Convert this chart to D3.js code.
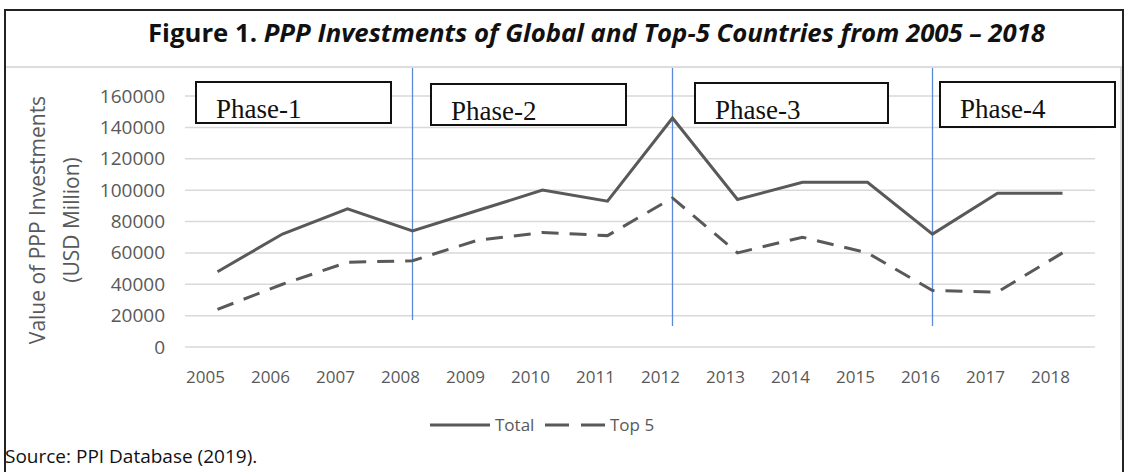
<!DOCTYPE html>
<html>
<head>
<meta charset="utf-8">
<script src="https://cdn.jsdelivr.net/npm/d3@7"></script>
<style>
  body { margin: 0; background: #fff; }
  text { font-family: "Open Sans", sans-serif; }
</style>
</head>
<body>
<div id="chart"></div>
<script>
const width = 1127;
const height = 472;

// values
const years = ["2005","2006","2007","2008","2009","2010","2011","2012","2013","2014","2015","2016","2017","2018"];
const total = [48000,72000,88000,74000,87000,100000,93000,146000,94000,105000,105000,72000,98000,98000];
const top5 = [24000,40000,54000,55000,68000,73000,71000,95000,60000,70000,60000,36000,35000,60000];
const yTicks = [0,20000,40000,60000,80000,100000,120000,140000,160000];
const phases = ["Phase-1","Phase-2","Phase-3","Phase-4"];
const phaseBreaks = ["2008","2012","2016"];

let x = d3.scaleBand()
  .domain(years)
  .range([185,1095]);

let y = d3.scaleLinear()
  .domain([0,160000])
  .range([347,96]);

const svg = d3.select("#chart")
  .append("svg")
  .attr("width", width)
  .attr("height", height);

// outer frame
svg.append("rect")
  .attr("x", 5).attr("y", 10)
  .attr("width", 1118).attr("height", 480)
  .attr("fill", "none")
  .attr("stroke", "#222")
  .attr("stroke-width", 2);

// faint edge of the pasted chart image
svg.append("path")
  .attr("d", "M6,67H1121V440")
  .attr("fill", "none")
  .attr("stroke", "#ddd")
  .attr("stroke-width", 2);

// title
const title = svg.append("text")
  .attr("x", 148)
  .attr("y", 42)
  .attr("font-size", 25)
  .attr("font-weight", "bold")
  .attr("fill", "#111")
  .attr("textLength", 897)
  .attr("lengthAdjust", "spacingAndGlyphs");
title.append("tspan").text("Figure 1. ");
title.append("tspan").attr("font-style", "italic")
  .text("PPP Investments of Global and Top-5 Countries from 2005 \u2013 2018");

// gridlines
svg.append("g")
  .selectAll("line")
  .data(yTicks).enter()
  .append("line")
  .attr("x1", 185).attr("x2", 1095)
  .attr("y1", d => y(d)).attr("y2", d => y(d))
  .attr("stroke", "#d9d9d9")
  .attr("stroke-width", 1.5);

// y axis labels
const yAxis = svg.append("g")
  .attr("transform", "translate(185,0)")
  .call(d3.axisLeft(y).tickValues(yTicks).tickSize(0).tickPadding(20).tickFormat(d3.format("d")));
yAxis.select(".domain").remove();
yAxis.selectAll("text")
  .attr("font-size", 19)
  .attr("fill", "#595959");

// x axis labels
const xAxis = svg.append("g")
  .attr("transform", "translate(-12,347)")
  .call(d3.axisBottom(x).tickSize(0).tickPadding(24));
xAxis.select(".domain").remove();
xAxis.selectAll("text")
  .attr("font-size", 17)
  .attr("fill", "#595959");

// y axis title
const yTitle = svg.append("text")
  .attr("transform", "rotate(-90)")
  .attr("text-anchor", "middle")
  .attr("font-size", 21)
  .attr("fill", "#595959");
yTitle.append("tspan").attr("x", -220).attr("y", 45).text("Value of PPP Investments");
yTitle.append("tspan").attr("x", -220).attr("y", 79).text("(USD Million)");

// phase separators
svg.append("g")
  .selectAll("line")
  .data(phaseBreaks).enter()
  .append("line")
  .attr("x1", d => x(d) + x.bandwidth()/2)
  .attr("x2", d => x(d) + x.bandwidth()/2)
  .attr("y1", 68)
  .attr("y2", (d, i) => i == 0 ? 320 : 326)
  .attr("stroke", "#5b8bd6")
  .attr("stroke-width", 1.3);

// phase boxes
const boxes = [[196,82,195,41],[431,84,195,41],[695,83,193,40],[940,82,175,45]];
const pg = svg.append("g")
  .selectAll("g")
  .data(phases).enter()
  .append("g");
pg.append("rect")
  .attr("x", (d, i) => boxes[i][0])
  .attr("y", (d, i) => boxes[i][1])
  .attr("width", (d, i) => boxes[i][2])
  .attr("height", (d, i) => boxes[i][3])
  .attr("fill", "#fff")
  .attr("stroke", "#111")
  .attr("stroke-width", 2);
pg.append("text")
  .attr("x", (d, i) => boxes[i][0] + 20)
  .attr("y", (d, i) => boxes[i][1] + 36)
  .attr("font-size", 27)
  .attr("fill", "#111")
  .style("font-family", "'Liberation Serif', serif")
  .text(d => d);

// lines
const line = d3.line()
  .x((d, i) => x(years[i]) + x.bandwidth()/2)
  .y(d => y(d));

svg.append("path")
  .datum(total)
  .attr("d", line)
  .attr("fill", "none")
  .attr("stroke", "#595959")
  .attr("stroke-width", 3);

svg.append("path")
  .datum(top5)
  .attr("d", line)
  .attr("fill", "none")
  .attr("stroke", "#595959")
  .attr("stroke-width", 3)
  .attr("stroke-dasharray", "17,11");

// legend
const legend = svg.append("g").attr("transform", "translate(0,425)");
legend.append("line")
  .attr("x1", 430).attr("x2", 490).attr("y1", 0).attr("y2", 0)
  .attr("stroke", "#595959").attr("stroke-width", 3);
legend.append("text")
  .attr("x", 495).attr("y", 6)
  .attr("font-size", 17).attr("fill", "#595959")
  .text("Total");
legend.append("line")
  .attr("x1", 545).attr("x2", 605).attr("y1", 0).attr("y2", 0)
  .attr("stroke", "#595959").attr("stroke-width", 3)
  .attr("stroke-dasharray", "24,12");
legend.append("text")
  .attr("x", 610).attr("y", 6)
  .attr("font-size", 17).attr("fill", "#595959")
  .text("Top 5");

// source note
svg.append("text")
  .attr("x", 5)
  .attr("y", 463)
  .attr("font-size", 19)
  .attr("fill", "#111")
  .text("Source: PPI Database (2019).");
</script>
</body>
</html>
